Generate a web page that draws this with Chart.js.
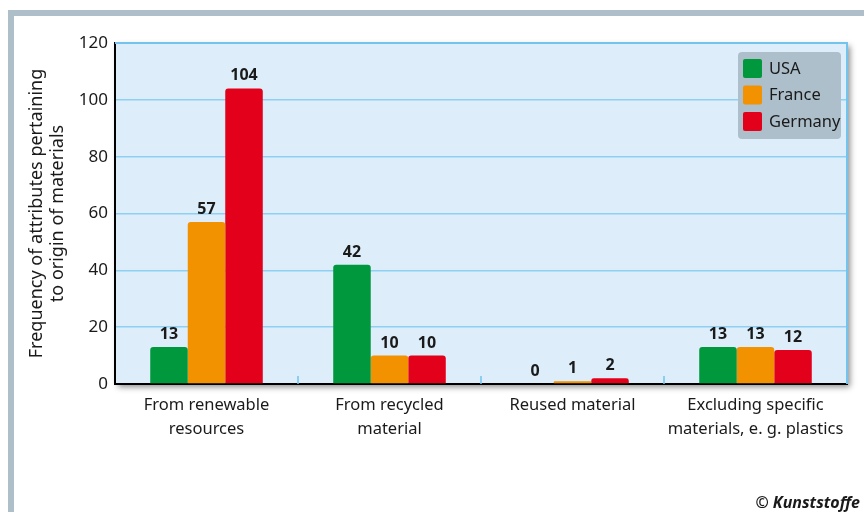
<!DOCTYPE html>
<html>
<head>
<meta charset="utf-8">
<script src="https://cdn.jsdelivr.net/npm/chart.js@4/dist/chart.umd.min.js"></script>
<style>
  html, body { margin: 0; padding: 0; background: #fff; }
  #wrap { width: 864px; height: 512px; }
</style>
</head>
<body>
<div id="wrap"><canvas id="chart" width="864" height="512"></canvas></div>
<script>
// categories and values
const categories = [
    ['From renewable', 'resources'],
    ['From recycled', 'material'],
    ['Reused material'],
    ['Excluding specific', 'materials, e. g. plastics']
];
const usaValues = [13, 42, 0, 13];
const franceValues = [57, 10, 1, 13];
const germanyValues = [104, 10, 2, 12];
const yTicks = [0, 20, 40, 60, 80, 100, 120];
const yTitle = ['Frequency of attributes pertaining', 'to origin of materials'];
const seriesNames = ['USA', 'France', 'Germany'];
const seriesColors = ['#00983d', '#f39200', '#e2001a'];
const credit = '\u00a9 Kunststoffe';

const FONT = '"Noto Sans", "Open Sans", sans-serif';

// frame, plot background, borders, category ticks
const framePlugin = {
    id: 'frame',
    beforeDraw(chart) {
        const ctx = chart.ctx;
        const a = chart.chartArea;
        ctx.save();
        ctx.fillStyle = '#ffffff';
        ctx.fillRect(0, 0, chart.width, chart.height);
        ctx.fillStyle = '#aebfca';
        ctx.fillRect(8, 10, chart.width - 8, 6);
        ctx.fillRect(8, 10, 6, chart.height - 10);
        ctx.shadowColor = 'rgba(0,0,0,0.45)';
        ctx.shadowBlur = 6;
        ctx.shadowOffsetX = 3;
        ctx.shadowOffsetY = 3;
        ctx.fillStyle = '#ddeefa';
        ctx.fillRect(a.left, a.top, a.right - a.left, a.bottom - a.top);
        ctx.restore();
    },
    afterDatasetsDraw(chart) {
        const ctx = chart.ctx;
        const a = chart.chartArea;
        const x = chart.scales.x;
        ctx.save();
        ctx.strokeStyle = '#72c4ee';
        ctx.lineWidth = 2;
        ctx.beginPath();
        ctx.moveTo(a.left, a.top);
        ctx.lineTo(a.right, a.top);
        ctx.lineTo(a.right, a.bottom);
        ctx.stroke();
        ctx.lineWidth = 1.5;
        ctx.beginPath();
        for (let i = 1; i < categories.length; i++) {
            const px = (x.getPixelForValue(i - 1) + x.getPixelForValue(i)) / 2;
            ctx.moveTo(px, a.bottom);
            ctx.lineTo(px, a.bottom - 8);
        }
        ctx.stroke();

        // value labels above bars
        ctx.fillStyle = '#1a1a1a';
        ctx.font = 'bold 16px ' + FONT;
        ctx.textAlign = 'center';
        ctx.textBaseline = 'alphabetic';
        chart.data.datasets.forEach((ds, di) => {
            chart.getDatasetMeta(di).data.forEach((bar, i) => {
                ctx.fillText(String(ds.data[i]), bar.x, bar.y - 8);
            });
        });

        // legend box
        const lx = 738, ly = 52, lw = 103, lh = 87;
        ctx.fillStyle = '#adbfca';
        ctx.beginPath();
        ctx.roundRect(lx, ly, lw, lh, 4);
        ctx.fill();
        ctx.font = '16.5px ' + FONT;
        ctx.textAlign = 'left';
        ctx.textBaseline = 'middle';
        chart.data.datasets.forEach((ds, di) => {
            const yy = ly + 7 + di * 26.5;
            ctx.fillStyle = ds.backgroundColor;
            ctx.beginPath();
            ctx.roundRect(lx + 5, yy, 19, 19, 2);
            ctx.fill();
            ctx.fillStyle = '#1a1a1a';
            ctx.fillText(ds.label, lx + 31, yy + 10);
        });

        ctx.font = 'italic bold 16px ' + FONT;
        ctx.textAlign = 'right';
        ctx.textBaseline = 'alphabetic';
        ctx.fillStyle = '#1a1a1a';
        ctx.fillText(credit, 860, 508);
        ctx.restore();
    }
};

new Chart(document.getElementById('chart'), {
    type: 'bar',
    data: {
        labels: categories,
        datasets: [usaValues, franceValues, germanyValues].map((vals, i) => ({
            label: seriesNames[i],
            data: vals,
            backgroundColor: seriesColors[i],
            borderRadius: { topLeft: 3, topRight: 3 },
            borderSkipped: 'bottom',
            categoryPercentage: 0.615,
            barPercentage: 1.0
        }))
    },
    options: {
        responsive: false,
        animation: false,
        devicePixelRatio: 1,
        layout: { padding: { top: 43, right: 17, bottom: 0, left: 0 } },
        plugins: { legend: { display: false }, tooltip: { enabled: false } },
        scales: {
            x: {
                grid: { display: false },
                border: { display: true, color: '#000000', width: 2 },
                ticks: {
                    color: '#1a1a1a',
                    font: { family: FONT, size: 16.5, lineHeight: 1.42 },
                    padding: 2,
                    maxRotation: 0,
                    autoSkip: false
                },
                afterFit(s) { s.height = 128; }
            },
            y: {
                min: 0,
                max: 120,
                afterBuildTicks(s) { s.ticks = yTicks.map(v => ({ value: v })); },
                grid: { color: '#8ecff2', lineWidth: 1.5, drawTicks: false },
                border: { display: true, color: '#000000', width: 2 },
                ticks: {
                    color: '#1a1a1a',
                    font: { family: FONT, size: 17 },
                    padding: 7
                },
                title: {
                    display: true,
                    text: yTitle,
                    color: '#1a1a1a',
                    font: { family: FONT, size: 18, lineHeight: 1.17 },
                    padding: { top: 26, bottom: 0 }
                },
                afterFit(s) { s.width = 115; }
            }
        }
    },
    plugins: [framePlugin]
});
</script>
</body>
</html>
